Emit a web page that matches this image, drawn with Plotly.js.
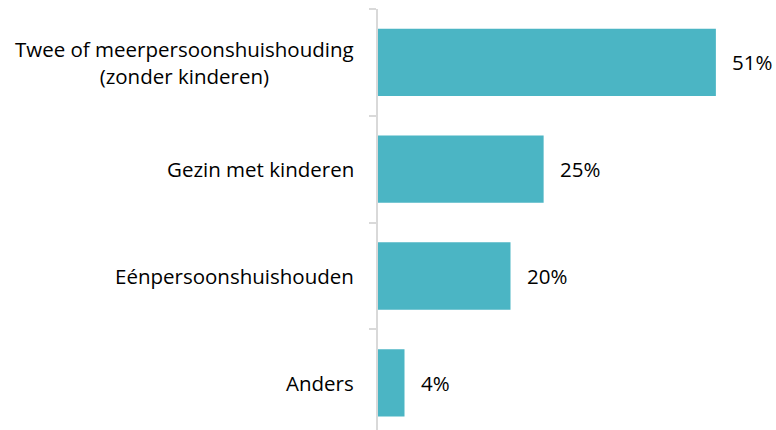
<!DOCTYPE html>
<html><head><meta charset="utf-8">
<script src="https://cdn.plot.ly/plotly-3.0.1.min.js"></script>
<style>html,body{margin:0;padding:0;background:#fff}</style>
</head><body>
<div id="chart" style="width:776px;height:430px"></div>
<script>
const categories = ["Twee of meerpersoonshuishouding<br>(zonder kinderen)", "Gezin met kinderen", "Eénpersoonshuishouden", "Anders"];
const values = [51, 25, 20, 4];
const valueLabels = ["51%", "25%", "20%", "4%"];

const barColor = "#4BB5C4";
const fontFam = "'Open Sans', sans-serif";
const fontSize = 20.5;

const trace = {
  type: "bar",
  orientation: "h",
  y: categories,
  x: values,
  marker: {color: barColor},
  hoverinfo: "skip",
  cliponaxis: false
};

const valueAnns = values.map((v, i) => ({
  x: v, y: categories[i], xref: "x", yref: "y",
  text: valueLabels[i], showarrow: false,
  xanchor: "left", xshift: 14,
  font: {family: fontFam, size: fontSize, color: "#000"}
}));

const catAnns = categories.map((c) => ({
  x: 0, y: c, xref: "paper", yref: "y",
  text: c, showarrow: false, align: "center",
  xanchor: "right", xshift: -22,
  font: {family: fontFam, size: fontSize, color: "#000"}
}));

const layout = {
  width: 776, height: 430,
  margin: {l: 378, r: 27, t: 9, b: 0},
  paper_bgcolor: "#fff", plot_bgcolor: "#fff",
  bargap: 0.37,
  showlegend: false,
  xaxis: {range: [0, 56], visible: false, fixedrange: true},
  yaxis: {
    type: "category",
    range: [3.442, -0.5],
    showline: true, linecolor: "#d9d9d9", linewidth: 2,
    ticks: "outside", tickson: "boundaries", ticklen: 7, tickcolor: "#d9d9d9", tickwidth: 2,
    showticklabels: false,
    showgrid: false, zeroline: false
  },
  annotations: catAnns.concat(valueAnns),
  font: {family: fontFam}
};

Plotly.newPlot("chart", [trace], layout, {displayModeBar: false, staticPlot: true});
</script>
</body></html>
